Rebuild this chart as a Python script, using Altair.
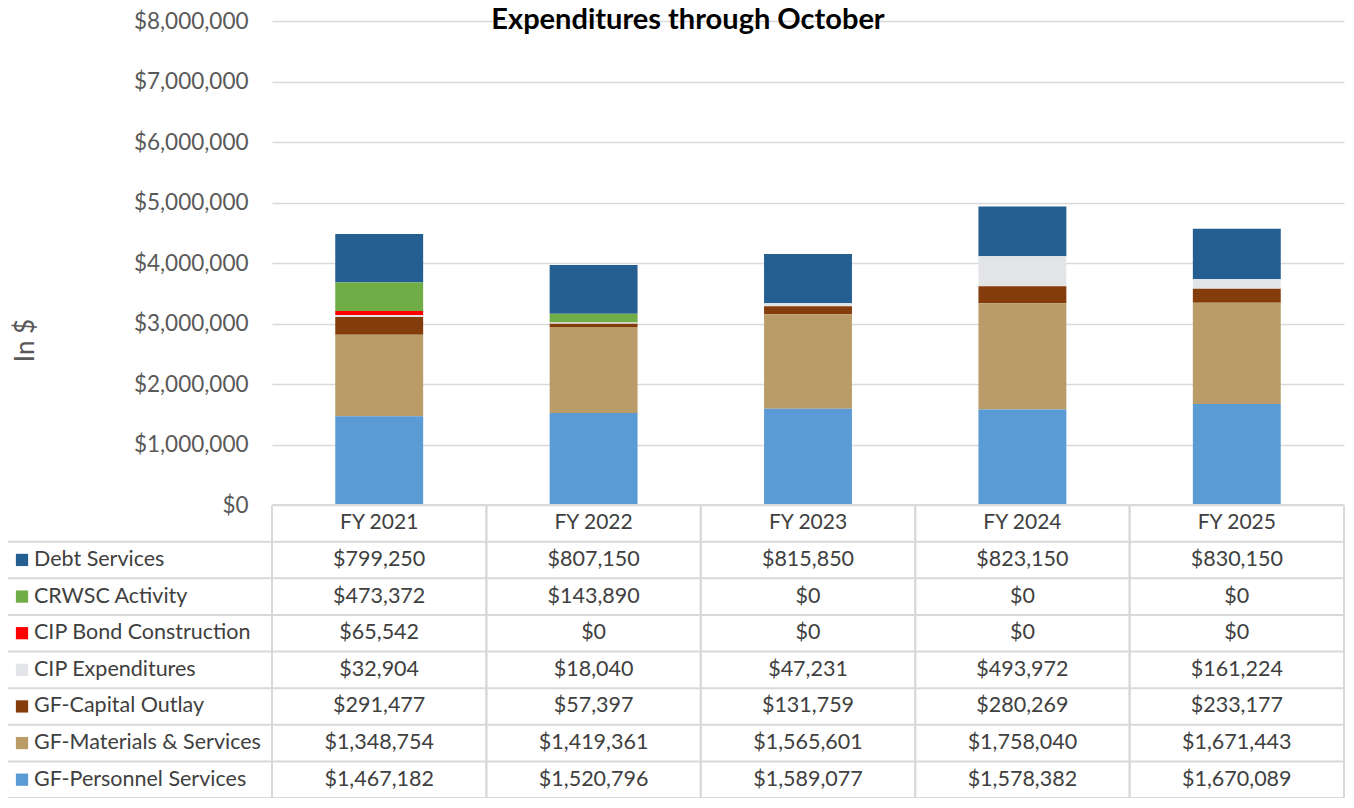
import altair as alt
import pandas as pd

# ---------------- data ----------------
years = ["FY 2021", "FY 2022", "FY 2023", "FY 2024", "FY 2025"]
series = [
    "Debt Services",
    "CRWSC Activity",
    "CIP Bond Construction",
    "CIP Expenditures",
    "GF-Capital Outlay",
    "GF-Materials & Services",
    "GF-Personnel Services",
]
debt_services = [799250, 807150, 815850, 823150, 830150]
crwsc_activity = [473372, 143890, 0, 0, 0]
cip_bond = [65542, 0, 0, 0, 0]
cip_expenditures = [32904, 18040, 47231, 493972, 161224]
capital_outlay = [291477, 57397, 131759, 280269, 233177]
materials_services = [1348754, 1419361, 1565601, 1758040, 1671443]
personnel_services = [1467182, 1520796, 1589077, 1578382, 1670089]
series_colors = ["#255E91", "#70AD47", "#FF0000", "#E3E4E8", "#843C0C", "#B99C68", "#5B9BD5"]
y_ticks = [0, 1000000, 2000000, 3000000, 4000000, 5000000, 6000000, 7000000, 8000000]

values_by_series = [debt_services, crwsc_activity, cip_bond, cip_expenditures,
                    capital_outlay, materials_services, personnel_services]

rows = []
for i, (s, vals) in enumerate(zip(series, values_by_series)):
    for y, v in zip(years, vals):
        rows.append({"year": y, "series": s, "row": s, "value": v,
                     "stack": len(series) - 1 - i})
df = pd.DataFrame(rows)

df_header = pd.DataFrame({"year": years, "row": ["_header"] * len(years)})
df_labels = pd.DataFrame({"series": series, "row": series})
df_hlines = pd.DataFrame({"row": series})
df_top = pd.DataFrame({"row": ["_header"]})
df_bottom = pd.DataFrame({"row": [series[-1]]})
df_years = pd.DataFrame({"year": years})

# ---------------- layout constants ----------------
W = 1072
H = 777
BAR_H = 484
ROW_H = (H - BAR_H) / (len(series) + 1)
LEFT = -265
FONT = "Lato"
GRID = "#D9D9D9"

xs = alt.Scale(domain=years, paddingInner=0, paddingOuter=0)
ts = alt.Scale(domain=["_header"] + series, range=[BAR_H, H], paddingInner=0, paddingOuter=0)
cs = alt.Scale(domain=series, range=series_colors)

X = alt.X("year:N", scale=xs, axis=None)

bars = alt.Chart(df).mark_bar(width={"band": 0.41}).encode(
    x=X,
    y=alt.Y(
        "value:Q",
        stack="zero",
        scale=alt.Scale(domain=[0, 8000000], range=[BAR_H, 0], nice=False),
        axis=alt.Axis(
            values=y_ticks, format="$,.0f", title="In $",
            labelFont=FONT, labelFontSize=22.5, labelColor="#595959", labelPadding=24,
            domain=False, ticks=False, grid=True, gridColor=GRID, gridWidth=1.5,
            titleFont=FONT, titleFontSize=26, titleFontWeight="normal", titleColor="#595959",
            titleX=-247, titleY=319, titleAngle=270, titleBaseline="middle", titleAlign="center",
        ),
    ),
    color=alt.Color("series:N", scale=cs, legend=None),
    order=alt.Order("stack:Q", sort="ascending"),
)

table_text = alt.Chart(df).mark_text(font=FONT, fontSize=21.5, color="#404040").encode(
    x=X,
    y=alt.Y("row:N", scale=ts, axis=None),
    text=alt.Text("value:Q", format="$,.0f"),
)

header_text = alt.Chart(df_header).mark_text(font=FONT, fontSize=21, color="#404040").encode(
    x=X,
    y=alt.Y("row:N", scale=ts, axis=None),
    text="year:N",
)

swatches = alt.Chart(df_labels).mark_square(size=150, opacity=1).encode(
    x=alt.value(LEFT + 15),
    y=alt.Y("row:N", scale=ts, axis=None),
    color=alt.Color("series:N", scale=cs, legend=None),
)

label_text = alt.Chart(df_labels).mark_text(font=FONT, fontSize=21.5, color="#404040", align="left").encode(
    x=alt.value(LEFT + 27),
    y=alt.Y("row:N", scale=ts, axis=None),
    text="series:N",
)

hlines = alt.Chart(df_hlines).mark_rule(color=GRID, strokeWidth=2).encode(
    y=alt.Y("row:N", scale=ts, axis=None, bandPosition=0),
    x=alt.value(LEFT), x2=alt.value(W),
)
top_line = alt.Chart(df_top).mark_rule(color=GRID, strokeWidth=2).encode(
    y=alt.Y("row:N", scale=ts, axis=None, bandPosition=0),
    x=alt.value(0), x2=alt.value(W),
)
bottom_line = alt.Chart(df_bottom).mark_rule(color=GRID, strokeWidth=2).encode(
    y=alt.Y("row:N", scale=ts, axis=None, bandPosition=1),
    x=alt.value(LEFT), x2=alt.value(W),
)
vlines_start = alt.Chart(df_years).mark_rule(color=GRID, strokeWidth=2).encode(
    x=alt.X("year:N", scale=xs, axis=None, bandPosition=0),
    y=alt.value(BAR_H), y2=alt.value(H),
)
vlines_end = alt.Chart(df_years).mark_rule(color=GRID, strokeWidth=2).encode(
    x=alt.X("year:N", scale=xs, axis=None, bandPosition=1),
    y=alt.value(BAR_H), y2=alt.value(H),
)
left_line = alt.Chart(df_top).mark_rule(color=GRID, strokeWidth=2).encode(
    x=alt.value(LEFT),
    y=alt.value(BAR_H + ROW_H), y2=alt.value(H),
)

chart = alt.layer(
    bars, hlines, top_line, bottom_line, vlines_start, vlines_end, left_line,
    table_text, header_text, swatches, label_text,
).resolve_scale(y="independent").properties(
    width=W,
    height=H,
    autosize=alt.AutoSizeParams(type="none"),
    padding={"left": 264, "top": 13, "right": 2, "bottom": 0},
    title=alt.TitleParams(
        "Expenditures through October", font=FONT, fontSize=29, fontWeight="bold",
        color="#000000", anchor="middle", dx=688 - (272 + W / 2), offset=-40, dy=8,
        baseline="alphabetic",
    ),
).configure_view(stroke=None)

chart.save("out.html", embed_options={"renderer": "svg", "actions": False})
